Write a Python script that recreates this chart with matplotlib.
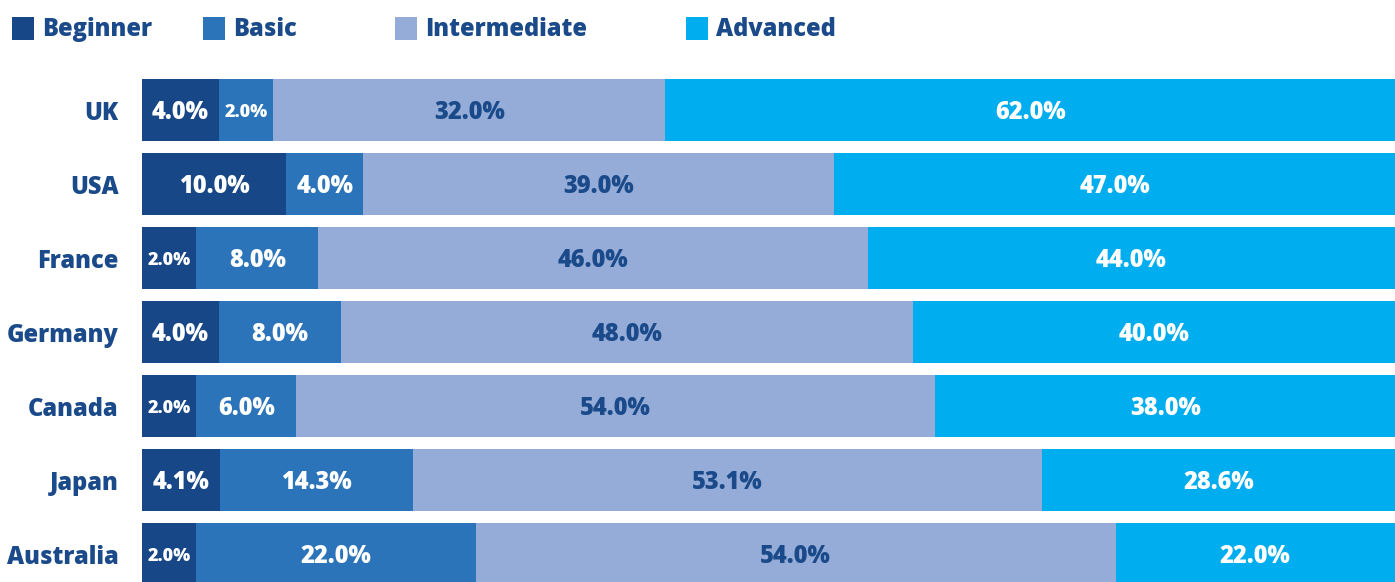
import numpy as np
import matplotlib
matplotlib.use("Agg")
import matplotlib.pyplot as plt
from matplotlib.patches import Rectangle

# data
countries = ["UK", "USA", "France", "Germany", "Canada", "Japan", "Australia"]
levels = ["Beginner", "Basic", "Intermediate", "Advanced"]
beginner = [4.0, 10.0, 2.0, 4.0, 2.0, 4.1, 2.0]
basic = [2.0, 4.0, 8.0, 8.0, 6.0, 14.3, 22.0]
intermediate = [32.0, 39.0, 46.0, 48.0, 54.0, 53.1, 54.0]
advanced = [62.0, 47.0, 44.0, 40.0, 38.0, 28.6, 22.0]

# style
colors = ["#174787", "#2b74b9", "#94acd7", "#00adee"]
text_colors = ["white", "white", "#1b4a8a", "white"]
navy = "#1b4a8a"
FONT = "Open Sans"
PAD = 2.84  # each segment gets a fixed minimum width so small shares stay readable

W, H, DPI = 1395, 582, 100


def px(x):
    return x / W


def py(y):
    return 1 - y / H


def main():
    plt.rcParams["font.family"] = [FONT, "DejaVu Sans"]
    fig = plt.figure(figsize=(W / DPI, H / DPI), dpi=DPI)

    ax = fig.add_axes([px(142), 0, 1 - px(142), 1])
    series = [beginner, basic, intermediate, advanced]
    y = np.arange(len(countries))
    left = np.zeros(len(countries))

    for vals, col, tcol in zip(series, colors, text_colors):
        widths = np.array(vals) + PAD
        ax.barh(y, widths, left=left, height=0.85, color=col, linewidth=0)
        for yi, (l, w, v) in enumerate(zip(left, widths, vals)):
            size = 13 if v < 3 else 17
            ax.text(l + w / 2, yi + 0.03, f"{v:.1f}%", ha="center", va="center",
                    color=tcol, fontsize=size, fontweight="heavy")
        left = left + widths

    total = 100 + 4 * PAD
    ax.set_xlim(0, total)
    ax.set_ylim((H - 110) / 74, -110 / 74)
    ax.set_yticks(y)
    ax.set_yticklabels(countries, fontsize=17, fontweight="heavy", color=navy)
    ax.tick_params(axis="y", length=0, pad=17)
    ax.set_xticks([])
    for s in ax.spines.values():
        s.set_visible(False)

    # legend
    legend_x = [12, 203, 395, 686]
    for lx, name, col in zip(legend_x, levels, colors):
        fig.patches.append(Rectangle((px(lx), py(40)), px(22), 23 / H,
                                     transform=fig.transFigure, color=col,
                                     linewidth=0))
        fig.text(px(lx + 30), py(30), name, ha="left", va="center",
                 fontsize=17, fontweight="heavy", color=navy)

    fig.savefig("out.png", dpi=DPI)
    plt.close(fig)


if __name__ == "__main__":
    main()
